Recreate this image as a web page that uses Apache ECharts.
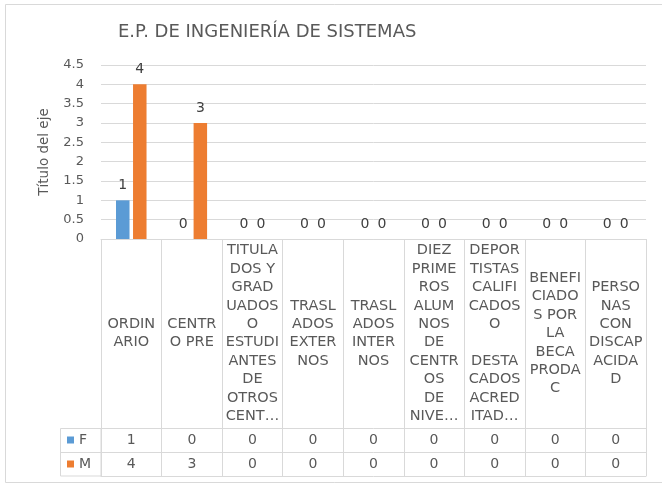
<!DOCTYPE html>
<html>
<head>
<meta charset="utf-8">
<script src="https://cdn.jsdelivr.net/npm/echarts@6/dist/echarts.min.js"></script>
<style>
html,body{margin:0;padding:0;background:#fff;}
#c{width:662px;height:484px;}
</style>
</head>
<body>
<div id="c"></div>
<script>
var titleText = 'E.P. DE INGENIERÍA DE SISTEMAS';
var axisName = 'Título del eje';
var categories = [
  'ORDIN\nARIO',
  'CENTR\nO PRE',
  'TITULA\nDOS Y\nGRAD\nUADOS\nO\nESTUDI\nANTES\nDE\nOTROS\nCENT…',
  'TRASL\nADOS\nEXTER\nNOS',
  'TRASL\nADOS\nINTER\nNOS',
  'DIEZ\nPRIME\nROS\nALUM\nNOS\nDE\nCENTR\nOS\nDE\nNIVE…',
  'DEPOR\nTISTAS\nCALIFI\nCADOS\nO\n\nDESTA\nCADOS\nACRED\nITAD…',
  'BENEFI\nCIADO\nS POR\nLA\nBECA\nPRODA\nC',
  'PERSO\nNAS\nCON\nDISCAP\nACIDA\nD'
];
var seriesNames = ['F', 'M'];
var valuesF = [1, 0, 0, 0, 0, 0, 0, 0, 0];
var valuesM = [4, 3, 0, 0, 0, 0, 0, 0, 0];
var yTicks = {min: 0, max: 4.5, interval: 0.5};

var FONT = 'DejaVu Sans';
var GRID = '#d9d9d9';
var TXT = '#595959';

var chart = echarts.init(document.getElementById('c'), null, {renderer: 'canvas'});

function rowAxis(offset, vals) {
  return {
    type: 'category',
    gridIndex: 0,
    position: 'bottom',
    offset: offset,
    data: categories,
    axisLine: {show: true, lineStyle: {color: GRID, width: 1}},
    axisTick: {show: false},
    axisLabel: {
      show: !!vals,
      interval: 0,
      margin: 12,
      verticalAlign: 'middle',
      color: TXT,
      fontFamily: FONT,
      fontSize: 14,
      formatter: function (v, i) { return vals ? String(vals[i]) : ''; }
    },
    splitLine: {show: false}
  };
}

var option = {
  backgroundColor: '#fff',
  animation: false,
  title: {
    text: titleText,
    left: 118,
    top: 23,
    padding: 0,
    textStyle: {color: TXT, fontFamily: FONT, fontSize: 18, fontWeight: 'normal'}
  },
  legend: {
    data: seriesNames,
    orient: 'vertical',
    left: 67,
    top: 432,
    padding: 0,
    itemWidth: 7,
    itemHeight: 7,
    itemGap: 8,
    icon: 'rect',
    textStyle: {color: TXT, fontFamily: FONT, fontSize: 14, lineHeight: 16}
  },
  grid: {left: 101, right: 16, top: 65, height: 174, containLabel: false},
  xAxis: [
    {
      type: 'category',
      data: categories,
      position: 'bottom',
      axisLine: {show: true, lineStyle: {color: GRID, width: 1}},
      axisTick: {show: true, interval: 0, length: 237, lineStyle: {color: GRID, width: 1}},
      axisLabel: {
        interval: 0,
        margin: 94.5,
        verticalAlign: 'middle',
        align: 'center',
        color: TXT,
        fontFamily: FONT,
        fontSize: 14.5,
        lineHeight: 18.4
      },
      splitLine: {show: false}
    },
    rowAxis(189, valuesF),
    rowAxis(213, valuesM),
    rowAxis(237, null)
  ],
  yAxis: {
    type: 'value',
    min: yTicks.min,
    max: yTicks.max,
    interval: yTicks.interval,
    name: axisName,
    nameLocation: 'middle',
    nameGap: 50,
    nameRotate: 90,
    nameTextStyle: {color: TXT, fontFamily: FONT, fontSize: 13.5},
    axisLine: {show: false},
    axisTick: {show: false},
    axisLabel: {color: TXT, fontFamily: FONT, fontSize: 13, margin: 17},
    splitLine: {lineStyle: {color: GRID, width: 1}}
  },
  series: [
    {
      name: seriesNames[0],
      type: 'bar',
      xAxisIndex: 0,
      data: valuesF,
      barWidth: 13.5,
      barGap: '26%',
      itemStyle: {color: '#5B9BD5'},
      label: {show: true, position: 'top', distance: 8, color: '#404040', fontFamily: FONT, fontSize: 14}
    },
    {
      name: seriesNames[1],
      type: 'bar',
      xAxisIndex: 0,
      data: valuesM,
      barWidth: 13.5,
      barGap: '26%',
      itemStyle: {color: '#ED7D31'},
      label: {show: true, position: 'top', distance: 8, color: '#404040', fontFamily: FONT, fontSize: 14}
    }
  ],
  graphic: [
    {type: 'rect', silent: true, shape: {x: 5.5, y: 4.5, width: 700, height: 478}, style: {fill: 'none', stroke: GRID, lineWidth: 1}, z: -1},
    {type: 'rect', silent: true, shape: {x: 60.5, y: 428.5, width: 40.5, height: 47.5}, style: {fill: 'none', stroke: GRID, lineWidth: 1}},
    {type: 'line', silent: true, shape: {x1: 60.5, y1: 452.5, x2: 101, y2: 452.5}, style: {stroke: GRID, lineWidth: 1}}
  ]
};
chart.setOption(option);
</script>
</body>
</html>
